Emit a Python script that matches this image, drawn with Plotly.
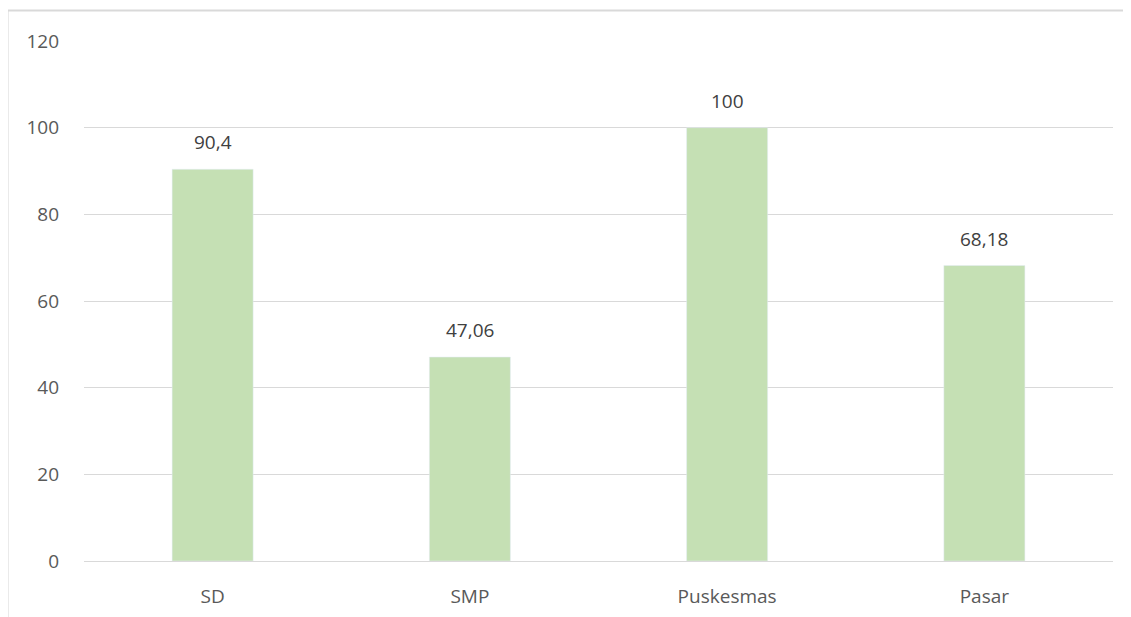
import plotly.graph_objects as go

categories = ["SD", "SMP", "Puskesmas", "Pasar"]
values = [90.4, 47.06, 100, 68.18]
value_labels = ["90,4", "47,06", "100", "68,18"]
y_ticks = [0, 20, 40, 60, 80, 100, 120]

FONT = "Open Sans"
FSIZE = 19

fig = go.Figure()
fig.add_trace(go.Bar(
    x=categories,
    y=values,
    marker_color="#c5e0b4",
    width=0.315,
    hoverinfo="x+y",
))

# data labels above each bar
for cat, val, lab in zip(categories, values, value_labels):
    fig.add_annotation(
        x=cat, y=val, text=lab, showarrow=False,
        yanchor="bottom", yshift=12,
        font=dict(family=FONT, size=FSIZE, color="#404040"),
    )

# outer chart frame (cropped on right and bottom)
fig.add_shape(type="line", xref="paper", yref="paper",
              x0=-0.0743, x1=1.2, y0=1.0587, y1=1.0587,
              line=dict(color="#d9d9d9", width=2))
fig.add_shape(type="line", xref="paper", yref="paper",
              x0=-0.0743, x1=-0.0743, y0=1.0587, y1=-0.3,
              line=dict(color="#d9d9d9", width=2))

# page has an 8px offset, so margins are shifted to compensate
fig.update_layout(
    width=1131, height=617,
    margin=dict(l=76, r=26, t=33, b=64),
    plot_bgcolor="white",
    paper_bgcolor="white",
    showlegend=False,
    font=dict(family=FONT, size=FSIZE, color="#595959"),
    xaxis=dict(
        showgrid=False, showline=False, ticks="",
        ticklabelstandoff=22,
        tickfont=dict(family=FONT, size=FSIZE, color="#595959"),
    ),
    yaxis=dict(
        range=[0, 120], tickvals=y_ticks,
        showgrid=True, gridcolor="#d9d9d9", gridwidth=1,
        zeroline=True, zerolinecolor="#d9d9d9", zerolinewidth=1,
        showline=False, ticks="",
        ticklabelstandoff=24,
        tickfont=dict(family=FONT, size=FSIZE, color="#595959"),
    ),
)

fig.write_html("out.html")
